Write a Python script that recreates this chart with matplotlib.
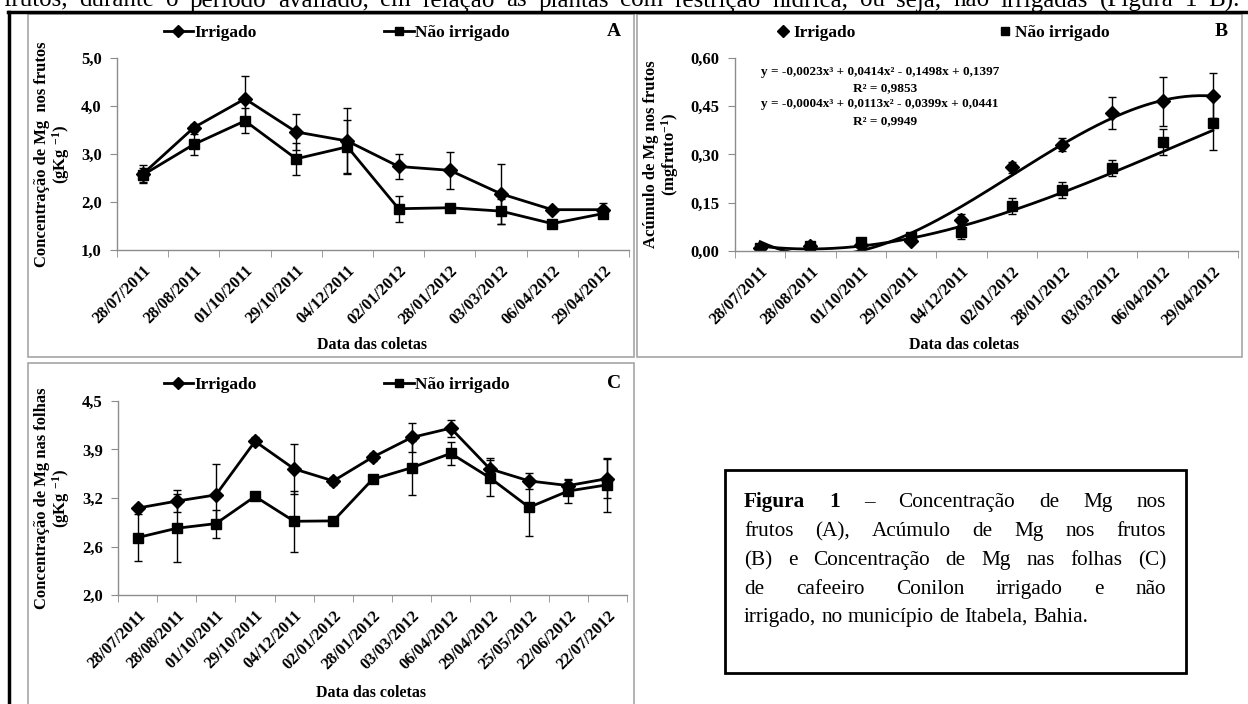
import numpy as np
import matplotlib.pyplot as plt
from matplotlib.patches import Rectangle
from matplotlib.lines import Line2D

plt.rcParams['font.family'] = ['Liberation Serif', 'DejaVu Serif']
plt.rcParams['font.weight'] = 'bold'
plt.rcParams['mathtext.fontset'] = 'custom'
plt.rcParams['mathtext.rm'] = 'Liberation Serif:bold'
plt.rcParams['mathtext.bf'] = 'Liberation Serif:bold'
plt.rcParams['mathtext.it'] = 'Liberation Serif:bold'

# ---- data ----
datas_ab = ['28/07/2011', '28/08/2011', '01/10/2011', '29/10/2011', '04/12/2011',
            '02/01/2012', '28/01/2012', '03/03/2012', '06/04/2012', '29/04/2012']
datas_c = ['28/07/2011', '28/08/2011', '01/10/2011', '29/10/2011', '04/12/2011',
           '02/01/2012', '28/01/2012', '03/03/2012', '06/04/2012', '29/04/2012',
           '25/05/2012', '22/06/2012', '22/07/2012']

# A - Mg nos frutos (g/kg)
frutos_irr = [2.58, 3.55, 4.15, 3.46, 3.27, 2.74, 2.66, 2.17, 1.84, 1.84]
frutos_irr_err = [0.19, 0.07, 0.48, 0.37, 0.68, 0.27, 0.38, 0.63, 0.03, 0.13]
frutos_nao = [2.56, 3.20, 3.69, 2.90, 3.15, 1.86, 1.88, 1.81, 1.55, 1.76]
frutos_nao_err = [0.15, 0.22, 0.26, 0.33, 0.55, 0.27, 0.05, 0.26, 0.03, 0.04]

# B - acumulo de Mg nos frutos (mg/fruto)
acum_irr = [0.010, 0.017, 0.020, 0.032, 0.097, 0.260, 0.330, 0.430, 0.465, 0.482]
acum_irr_err = [0.008, 0.006, 0.005, 0.008, 0.017, 0.017, 0.020, 0.050, 0.075, 0.070]
acum_nao = [0.008, 0.015, 0.027, 0.043, 0.058, 0.139, 0.189, 0.259, 0.339, 0.398]
acum_nao_err = [0.006, 0.005, 0.006, 0.006, 0.020, 0.025, 0.025, 0.025, 0.040, 0.085]
coef_irr = [-0.0023, 0.0414, -0.1498, 0.1397]
coef_nao = [-0.0004, 0.0113, -0.0399, 0.0441]
eq_irr = 'y = -0,0023x³ + 0,0414x² - 0,1498x + 0,1397'
r2_irr = 'R² = 0,9853'
eq_nao = 'y = -0,0004x³ + 0,0113x² - 0,0399x + 0,0441'
r2_nao = 'R² = 0,9949'

# C - Mg nas folhas (g/kg)
folhas_irr = [3.12, 3.21, 3.29, 3.98, 3.625, 3.47, 3.775, 4.03, 4.15, 3.625, 3.47, 3.41, 3.50]
folhas_irr_err = [0.04, 0.14, 0.40, 0.05, 0.32, 0.05, 0.05, 0.19, 0.11, 0.14, 0.10, 0.07, 0.25]
folhas_nao = [2.74, 2.86, 2.92, 3.27, 2.95, 2.955, 3.49, 3.64, 3.825, 3.51, 3.13, 3.34, 3.42]
folhas_nao_err = [0.30, 0.44, 0.18, 0.02, 0.39, 0.02, 0.02, 0.35, 0.15, 0.23, 0.37, 0.16, 0.35]

yt_a = [1.0, 2.0, 3.0, 4.0, 5.0]
yl_a = ['1,0', '2,0', '3,0', '4,0', '5,0']
yt_b = [0.0, 0.15, 0.30, 0.45, 0.60]
yl_b = ['0,00', '0,15', '0,30', '0,45', '0,60']
yt_c = [2.0, 2.625, 3.25, 3.875, 4.5]
yl_c = ['2,0', '2,6', '3,2', '3,9', '4,5']

texto_topo = ('frutos, durante o período avaliado, em relação às plantas com restrição '
              'hídrica, ou seja, não irrigadas (Figura 1 B).')
legenda_linhas = [
    [('Figura', 'bold'), ('1', 'bold'), ('–', 'normal'), ('Concentração', 'normal'),
     ('de', 'normal'), ('Mg', 'normal'), ('nos', 'normal')],
    'frutos (A), Acúmulo de Mg nos frutos',
    '(B) e Concentração de Mg nas folhas (C)',
    'de cafeeiro Conilon irrigado e não',
    'irrigado, no município de Itabela, Bahia.',
]

W, H = 1248, 704
fig = plt.figure(figsize=(W / 100, H / 100), dpi=100)
fig.patch.set_facecolor('white')
GRAY = '#8c8c8c'


def fx(x):
    return x / W


def fy(y):
    return 1 - y / H


def add_ax(x0, y0, x1, y1):
    return fig.add_axes([fx(x0), fy(y1), (x1 - x0) / W, (y1 - y0) / H])


def frame(x0, y0, x1, y1, color='#a6a6a6', lw=1.2):
    fig.add_artist(Rectangle((fx(x0), fy(y1)), (x1 - x0) / W, (y1 - y0) / H,
                             transform=fig.transFigure, fill=False, ec=color, lw=lw))


def style(ax, labels, yt, yl, ylim):
    n = len(labels)
    for s in ['top', 'right']:
        ax.spines[s].set_visible(False)
    for s in ['left', 'bottom']:
        ax.spines[s].set_color(GRAY)
        ax.spines[s].set_linewidth(1)
    ax.set_xlim(0.5, n + 0.5)
    ax.set_ylim(*ylim)
    ax.set_xticks(np.arange(1, n + 1))
    ax.set_xticklabels(labels, rotation=45, ha='right', rotation_mode='anchor',
                       fontsize=12, fontweight='bold')
    ax.set_xticks(np.arange(0.5, n + 1), minor=True)
    ax.tick_params(axis='x', which='major', length=0, pad=9)
    ax.tick_params(axis='x', which='minor', length=5, color=GRAY, direction='out')
    ax.set_yticks(yt)
    ax.set_yticklabels(yl, fontsize=12, fontweight='bold')
    ax.tick_params(axis='y', length=5, color=GRAY, direction='out', pad=6)
    ax.patch.set_alpha(0)


def serie(ax, y, e, marker):
    x = np.arange(1, len(y) + 1)
    ax.errorbar(x, y, yerr=e, fmt='none', ecolor='black', elinewidth=1,
                capsize=3, capthick=1, zorder=2)
    ax.plot(x, y, color='black', lw=2, marker=marker, ms=7, zorder=3)


def legenda_linha(ax, x, y, sep):
    h = [Line2D([], [], color='black', lw=2, marker='D', ms=6),
         Line2D([], [], color='black', lw=2, marker='s', ms=6)]
    ax.legend(h, ['Irrigado', 'Não irrigado'], ncol=2, frameon=False,
              loc='center left', bbox_to_anchor=(fx(x), fy(y)),
              bbox_transform=fig.transFigure, fontsize=12.5, handlelength=1.7,
              handletextpad=0.1, columnspacing=sep, borderpad=0)


def ylab(x, y, txt):
    fig.text(fx(x), fy(y), txt, rotation=90, fontsize=12, fontweight='bold',
             ha='center', va='center', linespacing=1.0)


def titulo_x(x, y):
    fig.text(fx(x), fy(y), 'Data das coletas', fontsize=11.5, fontweight='bold',
             ha='center', va='center')


# ---- frames ----
fig.add_artist(Line2D([fx(8), fx(1248)], [fy(12), fy(12)], color='black', lw=2.5,
                      transform=fig.transFigure))
fig.add_artist(Line2D([fx(9), fx(9)], [fy(12), fy(704)], color='black', lw=2.5,
                      transform=fig.transFigure))
frame(28, 14, 634, 357)
frame(637, 14, 1242, 357)
frame(28, 363, 634, 710)

# ---- panel A ----
axA = add_ax(117, 58, 629, 250)
serie(axA, frutos_irr, frutos_irr_err, 'D')
serie(axA, frutos_nao, frutos_nao_err, 's')
style(axA, datas_ab, yt_a, yl_a, (1.0, 5.0))
legenda_linha(axA, 155, 33, 7.3)
fig.text(fx(614), fy(32), 'A', fontsize=14, fontweight='bold', ha='center', va='center')
ylab(53, 154, 'Concentração de Mg  nos frutos\n(gKg $^{-1}$)')
titulo_x(372, 345)

# ---- panel B ----
axB = add_ax(735, 58, 1238, 251)
xb = np.arange(1, len(acum_irr) + 1)
xs = np.linspace(1, len(acum_irr), 200)
axB.errorbar(xb, acum_irr, yerr=acum_irr_err, fmt='none', ecolor='black', elinewidth=1,
             capsize=3, capthick=1)
axB.errorbar(xb, acum_nao, yerr=acum_nao_err, fmt='none', ecolor='black', elinewidth=1,
             capsize=3, capthick=1)
axB.plot(xs, np.polyval(coef_irr, xs), color='black', lw=2)
axB.plot(xs, np.polyval(coef_nao, xs), color='black', lw=2)
axB.plot(xb, acum_irr, ls='none', marker='D', ms=7, color='black')
axB.plot(xb, acum_nao, ls='none', marker='s', ms=7, color='black')
style(axB, datas_ab, yt_b, yl_b, (0.0, 0.60))
hb = [Line2D([], [], ls='none', marker='D', ms=6, color='black'),
      Line2D([], [], ls='none', marker='s', ms=6, color='black')]
axB.legend(hb, ['Irrigado', 'Não irrigado'], ncol=2, frameon=False, loc='center left',
           bbox_to_anchor=(fx(767), fy(33)), bbox_transform=fig.transFigure,
           fontsize=12.5, handlelength=0.8, handletextpad=0.2, columnspacing=8.2,
           borderpad=0)
fig.text(fx(1221), fy(32), 'B', fontsize=14, fontweight='bold', ha='center', va='center')
fig.text(fx(880), fy(72), eq_irr, fontsize=9.5, fontweight='bold', ha='center', va='center')
fig.text(fx(885), fy(88), r2_irr, fontsize=9.5, fontweight='bold', ha='center', va='center')
fig.text(fx(880), fy(104), eq_nao, fontsize=9.5, fontweight='bold', ha='center', va='center')
fig.text(fx(885), fy(121), r2_nao, fontsize=9.5, fontweight='bold', ha='center', va='center')
ylab(662, 154, 'Acúmulo de Mg nos frutos\n(mgfruto$^{-1}$)')
titulo_x(964, 345)

# ---- panel C ----
axC = add_ax(118, 401, 627, 595)
serie(axC, folhas_irr, folhas_irr_err, 'D')
serie(axC, folhas_nao, folhas_nao_err, 's')
style(axC, datas_c, yt_c, yl_c, (2.0, 4.5))
legenda_linha(axC, 155, 385, 7.3)
fig.text(fx(614), fy(384), 'C', fontsize=14, fontweight='bold', ha='center', va='center')
ylab(53, 498, 'Concentração de Mg nas folhas\n(gKg $^{-1}$)')
titulo_x(371, 693)

# ---- texto justificado ----
renderer = fig.canvas.get_renderer()


def linha(words, x0, x1, y, size, justify=True):
    if isinstance(words, str):
        words = [(w, 'normal') for w in words.split()]
    ts = [fig.text(0, fy(y), w, fontsize=size, fontweight=wt, va='baseline',
                   family='Liberation Serif') for w, wt in words]
    ws = [t.get_window_extent(renderer).width for t in ts]
    if justify and len(ts) > 1:
        gap = (x1 - x0 - sum(ws)) / (len(ts) - 1)
    else:
        gap = size * 0.25 * 100 / 72
    x = x0
    for t, w in zip(ts, ws):
        t.set_x(fx(x))
        x += w + gap


linha(texto_topo, 3, 1240, 6.5, 18)

frame(725, 470, 1186, 673, color='black', lw=2)
ys = [507, 536, 565, 594, 622]
for i, (ws_, yy) in enumerate(zip(legenda_linhas, ys)):
    linha(ws_, 744, 1166, yy, 15.3, justify=(i < len(legenda_linhas) - 1))

fig.savefig('out.png', dpi=100)
